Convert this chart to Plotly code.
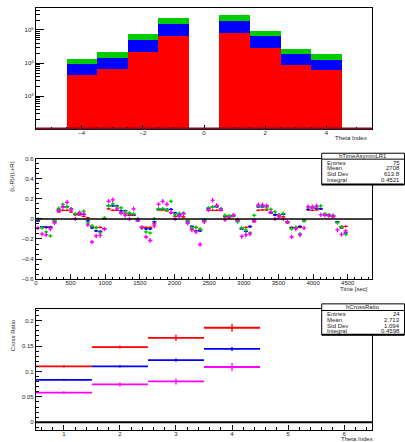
import plotly.graph_objects as go

FONT = "Liberation Sans, Arial, sans-serif"
W, H = 405, 442

# ---------------- Panel 1: stacked histogram (log y) ----------------
theta_bins = [-4, -3, -2, -1, 1, 2, 3, 4]
stack_red = [4540, 6530, 22500, 64400, 79300, 28200, 8770, 6220]
stack_blue = [4660, 7370, 28800, 93000, 114300, 38000, 9930, 6180]
stack_green = [3770, 7090, 26300, 75400, 86900, 29000, 9000, 5900]
log_exps = [3, 4, 5]

# ---------------- Panel 2: time asymmetry ----------------
time_bin_width = 60
n_time_bins = 75
asym_red = [
    -0.02, -0.08, -0.08, -0.08, -0.02,
    0.07, 0.085, 0.085, 0.07, 0.04, 0.04, 0.025,
    0.01, -0.075, -0.085, -0.085, 0.0,
    0.10, 0.085, 0.085, 0.06, 0.05, 0.035, 0.035,
    0.0, -0.08, -0.085, -0.085, -0.05,
    0.09, 0.085, 0.08, 0.06, 0.025, 0.025, 0.02,
    -0.02, -0.10, -0.085, -0.11, -0.01,
    0.085, 0.085, 0.085, 0.085, 0.02, 0.02, 0.025,
    -0.01, -0.10, -0.085, -0.08, -0.03,
    0.085, 0.09, 0.09, 0.06, 0.04, 0.02, 0.02,
    -0.04, -0.085, -0.085, -0.085, -0.02,
    0.09, 0.085, 0.09, 0.10, 0.04, 0.03, 0.02,
    -0.03, -0.075, -0.075]
asym_blue = [
    -0.02, -0.08, -0.085, -0.085, -0.03,
    0.09, 0.12, 0.12, 0.10, 0.05, 0.05, 0.045,
    -0.02, -0.09, -0.12, -0.125, -0.10,
    0.13, 0.13, 0.13, 0.08, 0.08, 0.05, 0.04,
    -0.02, -0.09, -0.10, -0.10, -0.03,
    0.095, 0.10, 0.095, 0.095, 0.06, 0.04, 0.055,
    -0.03, -0.075, -0.12, -0.12, -0.02,
    0.105, 0.12, 0.12, 0.10, 0.03, 0.03, 0.035,
    -0.02, -0.10, -0.125, -0.075, -0.01,
    0.12, 0.12, 0.13, 0.06, 0.04, 0.04, 0.045,
    -0.03, -0.09, -0.09, -0.075, -0.01,
    0.095, 0.11, 0.105, 0.10, 0.045, 0.04, 0.03,
    -0.03, -0.09, -0.14]
asym_green = [
    0.0, -0.09, -0.13, -0.17, -0.02,
    0.105, 0.145, 0.12, 0.10, 0.05, 0.065, 0.075,
    -0.04, -0.07, -0.09, -0.14, 0.01,
    0.13, 0.15, 0.12, 0.11, 0.07, 0.06, 0.05,
    0.0, -0.09, -0.13, -0.14, 0.0,
    0.10, 0.10, 0.09, 0.175, 0.04, 0.055, 0.055,
    -0.02, -0.09, -0.085, -0.10, -0.01,
    0.11, 0.12, 0.13, 0.10, 0.035, 0.03, 0.03,
    -0.03, -0.09, -0.11, -0.14, 0.035,
    0.13, 0.13, 0.11, 0.095, 0.07, 0.04, 0.055,
    -0.03, -0.10, -0.085, -0.15, -0.02,
    0.12, 0.12, 0.12, 0.13, 0.05, 0.04, 0.035,
    -0.04, -0.08, -0.155]
asym_magenta = [
    -0.09, -0.15, -0.16, -0.10, -0.04,
    0.08, 0.12, 0.165, 0.09, 0.0, 0.06, 0.05,
    -0.06, -0.23, -0.17, -0.165, -0.10,
    0.175, 0.19, 0.10, 0.055, 0.035, 0.0, 0.10,
    -0.01, -0.085, -0.18, -0.215, -0.07,
    0.145, 0.175, 0.145, 0.065, 0.0, 0.03, 0.05,
    -0.045, -0.11, -0.13, -0.255, -0.03,
    0.09, 0.185, 0.135, 0.09, -0.01, 0.01, 0.04,
    -0.01, -0.175, -0.16, -0.15, -0.02,
    0.14, 0.14, 0.13, 0.07, 0.0, 0.03, 0.0,
    -0.03, -0.18, -0.10, -0.16, -0.09,
    0.12, 0.12, 0.13, 0.04, 0.035, 0.03, 0.03,
    -0.11, -0.155, -0.12]
asym_err = {"red": 0.006, "blue": 0.01, "green": 0.018, "magenta": 0.022}

# ---------------- Panel 3: cross ratio ----------------
cross_bins = [1, 2, 3, 4]
cross_red = [0.110, 0.148, 0.166, 0.186]
cross_red_err = [0.002, 0.003, 0.006, 0.008]
cross_blue = [0.0835, 0.110, 0.1223, 0.1443]
cross_blue_err = [0.001, 0.002, 0.003, 0.004]
cross_magenta = [0.0583, 0.0744, 0.0803, 0.1087]
cross_magenta_err = [0.002, 0.004, 0.006, 0.008]

stats1 = [("Entries", "75"), ("Mean", "2708"), ("Std Dev", "613.8"), ("Integral", "0.4521")]
stats2 = [("Entries", "24"), ("Mean", "2.713"), ("Std Dev", "1.094"), ("Integral", "0.4598")]

RED, BLUE, GREEN, MAG = "#ff0000", "#0000ff", "#00cc00", "#ff00ff"


def px(x):
    return x / W


def py(y):
    return 1 - y / H


fig = go.Figure()

# Panel 1 bars
for vals, col in [(stack_red, RED), (stack_blue, BLUE), (stack_green, GREEN)]:
    fig.add_trace(go.Bar(x=theta_bins, y=vals, width=1.0,
                         marker=dict(color=col, line=dict(width=0)),
                         xaxis="x", yaxis="y", showlegend=False))

# Panel 2 points
time_centers = [time_bin_width * (i + 0.5) for i in range(n_time_bins)]
for vals, col, key in [(asym_red, RED, "red"), (asym_blue, BLUE, "blue"),
                       (asym_green, GREEN, "green"), (asym_magenta, MAG, "magenta")]:
    fig.add_trace(go.Scatter(
        x=time_centers, y=vals, mode="markers",
        marker=dict(size=2, color=col),
        error_x=dict(type="constant", value=time_bin_width / 2, thickness=1.3, width=0, color=col),
        error_y=dict(type="constant", value=asym_err[key], thickness=1.3, width=0, color=col),
        xaxis="x2", yaxis="y2", showlegend=False))

# Panel 3 points
for vals, errs, col in [(cross_red, cross_red_err, RED), (cross_blue, cross_blue_err, BLUE),
                        (cross_magenta, cross_magenta_err, MAG)]:
    fig.add_trace(go.Scatter(
        x=cross_bins, y=vals, mode="markers",
        marker=dict(size=2, color=col),
        error_x=dict(type="constant", value=0.5, thickness=1.8, width=0, color=col),
        error_y=dict(type="data", array=errs, thickness=1.3, width=0, color=col),
        xaxis="x3", yaxis="y3", showlegend=False))

tickfont = dict(family=FONT, size=6, color="#222")
common = dict(showgrid=False, zeroline=False, showline=True, linecolor="#000",
              linewidth=1, mirror=True, ticks="inside", tickcolor="#000",
              tickfont=tickfont)

xdom = [px(34), px(372)]

minor_log = [k * 10 ** e for e in [2, 3, 4, 5] for k in range(2, 10)]

fig.update_layout(
    width=W, height=H, autosize=False,
    margin=dict(l=0, r=0, t=0, b=0),
    paper_bgcolor="white", plot_bgcolor="white",
    barmode="stack", bargap=0,
    font=dict(family=FONT, size=6, color="#222"),
    xaxis=dict(domain=xdom, anchor="y", range=[-5.5, 5.5], tick0=0, dtick=2,
               ticklen=4, ticklabelstandoff=-2,
               minor=dict(dtick=0.5, ticklen=2, ticks="inside", tickcolor="#000"),
               **common),
    yaxis=dict(domain=[py(127.3), py(5)], anchor="x", type="log", range=[2.022, 5.666],
               tickvals=[10 ** e for e in log_exps],
               ticktext=["10<sup>%d</sup>" % e for e in log_exps],
               ticklen=8, minor=dict(tickvals=minor_log, ticklen=4, ticks="inside", tickcolor="#000"),
               **common),
    xaxis2=dict(domain=xdom, anchor="y2", range=[0, 4852], tick0=0, dtick=500,
                ticklen=5, ticklabelstandoff=-2,
                minor=dict(dtick=100, ticklen=2.5, ticks="inside", tickcolor="#000"),
                **common),
    yaxis2=dict(domain=[py(280), py(157.7)], anchor="x2", range=[-0.6, 0.6], dtick=0.2,
                ticklen=6, minor=dict(dtick=0.05, ticklen=3, ticks="inside", tickcolor="#000"),
                **common),
    xaxis3=dict(domain=xdom, anchor="y3", range=[0.5, 6.5], tick0=0, dtick=1,
                ticklen=5, ticklabelstandoff=-2,
                minor=dict(dtick=0.2, ticklen=2.5, ticks="inside", tickcolor="#000"),
                **common),
    yaxis3=dict(domain=[py(432.7), py(310)], anchor="x3", range=[-0.0149, 0.2233], dtick=0.05,
                ticklen=6, minor=dict(dtick=0.01, ticklen=3, ticks="inside", tickcolor="#000"),
                **common),
)

shapes = []
# maroon bottom line in panel 1
shapes.append(dict(type="line", xref="x domain", yref="y domain", x0=0, x1=1, y0=0, y1=0,
                   line=dict(color="#7a1020", width=2)))
# zero lines
shapes.append(dict(type="line", xref="x2 domain", yref="y2", x0=0, x1=1, y0=0, y1=0,
                   line=dict(color="#000", width=1.5)))
shapes.append(dict(type="line", xref="x3 domain", yref="y3", x0=0, x1=1, y0=0, y1=0,
                   line=dict(color="#000", width=2)))

annotations = []


def stats_box(x0, x1, y0, y1, ytitle_line, title, rows, row_y):
    shapes.append(dict(type="rect", xref="paper", yref="paper",
                       x0=px(x0), x1=px(x1), y0=py(y1), y1=py(y0),
                       fillcolor="white", line=dict(color="#000", width=1), layer="above"))
    shapes.append(dict(type="line", xref="paper", yref="paper",
                       x0=px(x0), x1=px(x1), y0=py(y1), y1=py(y1),
                       line=dict(color="#000", width=2), layer="above"))
    shapes.append(dict(type="line", xref="paper", yref="paper",
                       x0=px(x0), x1=px(x1), y0=py(ytitle_line), y1=py(ytitle_line),
                       line=dict(color="#000", width=1), layer="above"))
    annotations.append(dict(xref="paper", yref="paper", x=px((x0 + x1) / 2),
                            y=py((y0 + ytitle_line) / 2), text=title, showarrow=False,
                            xanchor="center", yanchor="middle",
                            font=dict(family=FONT, size=6, color="#222")))
    for (lab, val), yy in zip(rows, row_y):
        annotations.append(dict(xref="paper", yref="paper", x=px(x0 + 3), y=py(yy), text=lab,
                                showarrow=False, xanchor="left", yanchor="middle",
                                font=dict(family=FONT, size=6, color="#222")))
        annotations.append(dict(xref="paper", yref="paper", x=px(x1 - 3), y=py(yy), text=val,
                                showarrow=False, xanchor="right", yanchor="middle",
                                font=dict(family=FONT, size=6, color="#222")))


stats_box(321.3, 404.5, 152.3, 184, 158.3, "hTimeAsymmLR1", stats1, [161.7, 167.7, 173.7, 179.7])
stats_box(321.3, 404.5, 305, 336.3, 311.7, "hCrossRatio", stats2, [315, 321, 327, 332.7])

titlefont = dict(family=FONT, size=6, color="#222")
annotations += [
    dict(xref="paper", yref="paper", x=px(369), y=py(137), text="Theta Index", showarrow=False,
         xanchor="right", yanchor="middle", font=titlefont),
    dict(xref="paper", yref="paper", x=px(370), y=py(290), text="Time [sec]", showarrow=False,
         xanchor="right", yanchor="middle", font=titlefont),
    dict(xref="paper", yref="paper", x=px(375), y=py(441.5), text="Theta Index", showarrow=False,
         xanchor="right", yanchor="middle", font=titlefont),
    dict(xref="paper", yref="paper", x=px(10.5), y=py(158), text="(L-R)/(L+R)", showarrow=False,
         textangle=-90, xanchor="center", yanchor="top", font=titlefont),
    dict(xref="paper", yref="paper", x=px(10.5), y=py(318), text="Cross Ratio", showarrow=False,
         textangle=-90, xanchor="center", yanchor="top", font=titlefont),
]

fig.update_layout(shapes=shapes, annotations=annotations)

fig.write_html("out.html", config={"displayModeBar": False},
               post_script="document.body.style.margin='0';")
